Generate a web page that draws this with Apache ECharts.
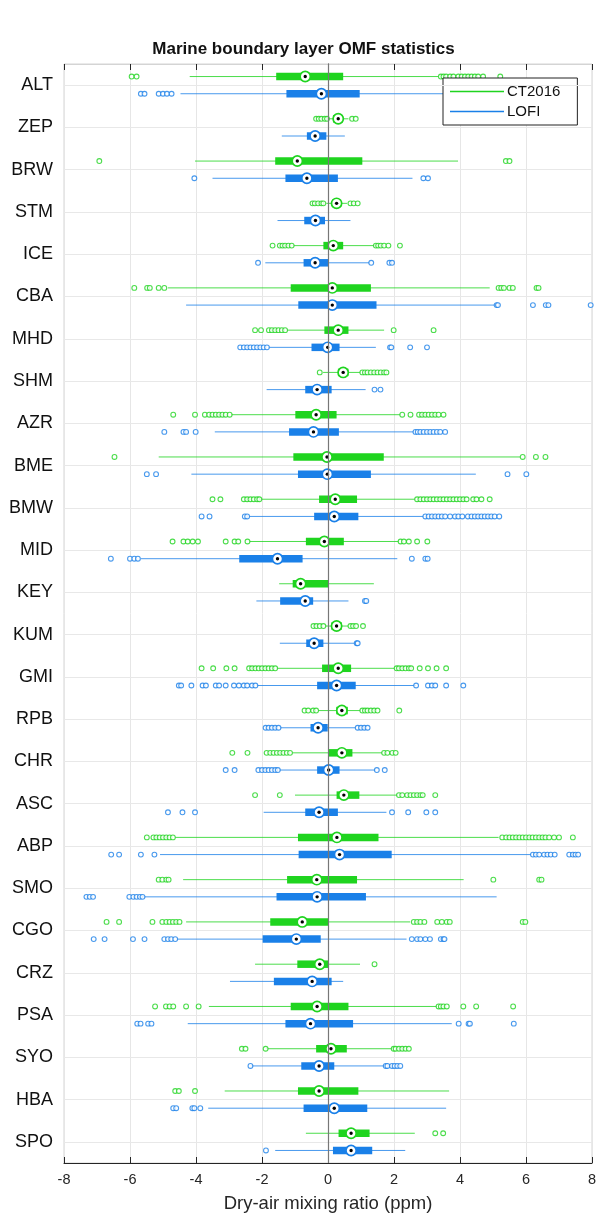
<!DOCTYPE html>
<html><head><meta charset="utf-8">
<script src="https://cdn.jsdelivr.net/npm/echarts@6/dist/echarts.min.js"></script>
<style>html,body{margin:0;padding:0;background:#fff}#c{width:607px;height:1218px}</style>
</head><body><div id="c"></div>
<script>
// ---- data ----
const stations = ['ALT','ZEP','BRW','STM','ICE','CBA','MHD','SHM','AZR','BME','BMW','MID','KEY','KUM','GMI','RPB','CHR','ASC','ABP','SMO','CGO','CRZ','PSA','SYO','HBA','SPO'];
// [lower whisker, q1, median, q3, upper whisker]
const ct2016Box = [
 [-4.19,-1.57,-0.69,0.46,3.35],
 [0.0,0.15,0.31,0.45,0.62],
 [-4.03,-1.6,-0.93,1.04,3.94],
 [-0.05,0.12,0.26,0.4,0.58],
 [-1.07,-0.14,0.16,0.46,1.42],
 [-4.85,-1.13,0.13,1.3,4.9],
 [-1.24,-0.11,0.31,0.62,1.7],
 [-0.15,0.3,0.46,0.62,1.0],
 [-2.94,-0.99,-0.36,0.26,2.21],
 [-5.13,-1.05,-0.03,1.69,5.83],
 [-2.06,-0.27,0.22,0.88,2.65],
 [-2.39,-0.67,-0.11,0.48,2.16],
 [-1.48,-1.07,-0.83,0.0,1.39],
 [-0.1,0.1,0.26,0.42,0.65],
 [-1.57,-0.18,0.31,0.7,2.05],
 [-0.3,0.25,0.42,0.6,1.0],
 [-1.07,0.02,0.42,0.74,1.66],
 [-1.0,0.26,0.48,0.95,2.12],
 [-4.63,-0.91,0.27,1.53,5.17],
 [-4.39,-1.24,-0.34,0.88,4.11],
 [-4.3,-1.75,-0.78,0.0,2.49],
 [-2.21,-0.93,-0.25,0.0,0.97],
 [-3.61,-1.13,-0.33,0.62,3.31],
 [-1.89,-0.36,0.09,0.57,1.96],
 [-3.13,-0.91,-0.27,0.92,3.67],
 [-0.67,0.32,0.7,1.26,2.63]
];
const lofiBox = [
 [-4.47,-1.26,-0.2,0.96,4.4],
 [-1.4,-0.64,-0.39,-0.05,0.51],
 [-3.5,-1.29,-0.64,0.3,2.56],
 [-1.53,-0.72,-0.38,-0.09,0.68],
 [-1.9,-0.74,-0.39,0.0,1.28],
 [-4.3,-0.9,0.13,1.47,5.04],
 [-1.82,-0.5,-0.01,0.35,1.45],
 [-1.86,-0.69,-0.33,0.11,1.14],
 [-3.43,-1.18,-0.44,0.33,2.6],
 [-4.14,-0.91,-0.02,1.3,4.48],
 [-2.39,-0.42,0.19,0.92,2.92],
 [-5.67,-2.69,-1.53,-0.77,2.1],
 [-2.17,-1.45,-0.69,-0.45,0.62],
 [-1.46,-0.66,-0.42,-0.14,0.84],
 [-2.17,-0.33,0.26,0.84,2.67],
 [-1.46,-0.53,-0.3,-0.01,0.84],
 [-1.49,-0.33,0.02,0.35,1.45],
 [-1.95,-0.69,-0.27,0.3,1.77],
 [-5.09,-0.89,0.35,1.93,6.16],
 [-5.62,-1.56,-0.33,1.15,5.11],
 [-4.58,-1.98,-0.96,-0.22,2.38],
 [-2.97,-1.64,-0.48,0.11,0.46],
 [-4.25,-1.29,-0.53,0.76,3.75],
 [-2.35,-0.81,-0.27,0.19,1.72],
 [-3.63,-0.74,0.19,1.19,3.58],
 [-1.6,0.15,0.7,1.34,2.34]
];
const ct2016Outliers = [
 [-5.95,-5.8,3.42,3.5,3.58,3.7,3.8,3.95,4.05,4.15,4.25,4.35,4.45,4.55,4.7,5.22],
 [-0.36,-0.28,-0.2,-0.1,-0.03,0.73,0.84],
 [-6.93,5.39,5.5],
 [-0.47,-0.4,-0.3,-0.2,-0.14,0.68,0.78,0.9],
 [-1.68,-1.46,-1.38,-1.3,-1.2,-1.1,1.45,1.52,1.6,1.7,1.83,2.18],
 [-5.87,-5.48,-5.4,-5.13,-4.96,5.17,5.25,5.33,5.5,5.6,6.32,6.38],
 [-2.21,-2.03,-1.79,-1.7,-1.6,-1.5,-1.4,-1.3,1.99,3.2],
 [-0.25,1.04,1.12,1.2,1.3,1.4,1.5,1.6,1.7,1.77],
 [-4.69,-4.03,-3.73,-3.6,-3.5,-3.4,-3.3,-3.2,-3.1,-2.98,2.25,2.5,2.76,2.85,2.95,3.05,3.15,3.25,3.35,3.5],
 [-6.47,5.9,6.3,6.59],
 [-3.5,-3.26,-2.55,-2.45,-2.35,-2.25,-2.15,-2.08,2.7,2.8,2.9,3.0,3.1,3.2,3.3,3.4,3.5,3.6,3.7,3.8,3.9,4.0,4.1,4.2,4.4,4.5,4.65,4.9],
 [-4.71,-4.38,-4.25,-4.1,-3.94,-3.1,-2.83,-2.72,-2.44,2.2,2.3,2.45,2.7,3.01],
 [],
 [-0.44,-0.35,-0.25,-0.14,0.68,0.76,0.85,1.06],
 [-3.83,-3.48,-3.08,-2.83,-2.39,-2.3,-2.2,-2.1,-2.0,-1.9,-1.8,-1.7,-1.6,2.08,2.15,2.25,2.35,2.45,2.52,2.78,3.03,3.29,3.58],
 [-0.71,-0.6,-0.45,-0.36,1.04,1.12,1.2,1.3,1.4,1.5,2.16],
 [-2.9,-2.44,-1.86,-1.75,-1.65,-1.55,-1.45,-1.35,-1.25,-1.15,1.7,1.8,1.95,2.05],
 [-2.21,-1.46,2.15,2.25,2.4,2.5,2.6,2.7,2.8,2.87,3.25],
 [-5.49,-5.29,-5.2,-5.1,-5.0,-4.9,-4.8,-4.7,5.28,5.4,5.5,5.6,5.7,5.8,5.9,6.0,6.1,6.2,6.3,6.4,6.5,6.59,6.7,6.85,7.0,7.42],
 [-5.13,-5.02,-4.9,-4.83,5.01,6.4,6.47],
 [-6.71,-6.33,-5.32,-5.02,-4.9,-4.8,-4.7,-4.6,-4.5,2.6,2.7,2.8,2.92,3.31,3.45,3.6,3.69,5.9,5.98],
 [1.41],
 [-5.24,-4.91,-4.8,-4.69,-4.3,-3.92,3.35,3.42,3.5,3.6,4.1,4.49,5.61],
 [-2.61,-2.5,-1.89,1.99,2.05,2.15,2.25,2.35,2.45],
 [-4.63,-4.52,-4.03],
 [3.25,3.49]
];
const lofiOutliers = [
 [-5.67,-5.56,-5.13,-5.0,-4.88,-4.74],
 [],
 [-4.05,2.89,3.03],
 [],
 [-2.12,1.31,1.86,1.94],
 [5.11,5.15,6.21,6.6,6.68,7.96],
 [-2.66,-2.55,-2.45,-2.35,-2.25,-2.15,-2.05,-1.95,-1.85,1.88,1.92,2.49,3.0],
 [1.41,1.59],
 [-4.96,-4.38,-4.3,-4.01,2.65,2.72,2.8,2.9,3.0,3.1,3.2,3.3,3.4,3.55],
 [-5.49,-5.21,5.44,6.01],
 [-3.83,-3.59,-2.52,-2.45,2.95,3.05,3.15,3.25,3.35,3.45,3.55,3.7,3.85,3.95,4.07,4.24,4.35,4.45,4.55,4.65,4.75,4.85,4.95,5.05,5.19],
 [-6.58,-6.0,-5.87,-5.76,2.54,2.95,3.02],
 [1.12,1.16],
 [0.87,0.9],
 [-4.52,-4.45,-4.14,-3.8,-3.7,-3.4,-3.3,-3.1,-2.85,-2.7,-2.55,-2.45,-2.3,-2.2,2.67,3.03,3.15,3.25,3.58,4.1],
 [-1.89,-1.8,-1.7,-1.6,-1.5,0.9,1.0,1.1,1.2],
 [-3.1,-2.83,-2.11,-2.0,-1.9,-1.8,-1.7,-1.6,-1.52,1.48,1.72],
 [-4.85,-4.41,-4.03,1.94,2.43,2.98,3.25],
 [-6.57,-6.33,-5.67,-5.26,6.21,6.3,6.4,6.55,6.65,6.75,6.87,7.31,7.42,7.5,7.58],
 [-7.32,-7.22,-7.12,-6.02,-5.9,-5.8,-5.7,-5.62],
 [-7.1,-6.77,-5.91,-5.56,-4.96,-4.85,-4.75,-4.63,2.54,2.7,2.8,2.95,3.09,3.42,3.5,3.53],
 [],
 [-5.78,-5.68,-5.45,-5.35,3.96,4.26,4.3,5.63],
 [-2.35,1.75,1.8,1.94,2.02,2.1,2.19],
 [-4.69,-4.6,-4.11,-4.05,-3.87],
 [-1.88]
];
const xMin = -8, xMax = 8, xInterval = 2;
const seriesNames = ['CT2016','LOFI'];

// ---- styling ----
const GREEN = '#1fd41f', BLUE = '#1a80e8';
const FONT = "'Liberation Sans', Arial, Helvetica, sans-serif";
const OFF = 8.6, BOX_H = 7.5;

function boxData(boxes){ return boxes.map((b,i)=>[i].concat(b)); }
function outlierData(list){ const out=[]; list.forEach((arr,i)=>arr.forEach(v=>out.push([v,i]))); return out; }

function boxRenderer(sign, color){
  return function(params, api){
    const cat = api.value(0);
    const lo = api.coord([api.value(1), cat]);
    const q1 = api.coord([api.value(2), cat]);
    const q3 = api.coord([api.value(4), cat]);
    const hi = api.coord([api.value(5), cat]);
    const y = lo[1] + sign*OFF;
    return {type:'group', children:[
      {type:'line', shape:{x1:lo[0], y1:y, x2:hi[0], y2:y}, style:{stroke:color, lineWidth:1, opacity:0.8}},
      {type:'rect', shape:{x:q1[0], y:y-BOX_H/2, width:q3[0]-q1[0], height:BOX_H}, style:{fill:color}}
    ]};
  };
}
function medianRenderer(sign, color){
  return function(params, api){
    const cat = api.value(0);
    const m = api.coord([api.value(3), cat]);
    const y = m[1] + sign*OFF;
    return {type:'group', children:[
      {type:'circle', shape:{cx:m[0], cy:y, r:5.1}, style:{fill:'#fff', stroke:color, lineWidth:1.7}},
      {type:'circle', shape:{cx:m[0], cy:y, r:1.7}, style:{fill:'#000'}}
    ]};
  };
}

const chart = echarts.init(document.getElementById('c'), null, {renderer:'canvas'});
const series = [];
// horizontal grid lines at category centres
series.push({type:'line', name:'grid', data:[], silent:true, z:1,
  markLine:{silent:true, symbol:'none', label:{show:false}, animation:false,
    lineStyle:{color:'#e8e8e8', width:1, type:'solid'},
    data: stations.map(s=>({yAxis:s}))}});
[[ct2016Box, ct2016Outliers, GREEN, -1], [lofiBox, lofiOutliers, BLUE, 1]].forEach(([box, outl, color, sign], k)=>{
  series.push({type:'custom', name:seriesNames[k], renderItem:boxRenderer(sign,color),
    data:boxData(box), encode:{x:[1,2,3,4,5], y:0}, itemStyle:{color:color}, z:2, animation:false});
  series.push({type:'scatter', name:seriesNames[k]+' outliers', data:outlierData(outl),
    symbol:'circle', symbolSize:4.8, symbolOffset:[0, sign*OFF],
    itemStyle:{color:'#fff', borderColor:color, borderWidth:1.1}, z:2, animation:false});
});
// zero line
series.push({type:'line', name:'zero', data:[], silent:true, z:3,
  markLine:{silent:true, symbol:'none', label:{show:false}, animation:false,
    lineStyle:{color:'#777', width:1.2, type:'solid'}, data:[{xAxis:0}]}});
[[ct2016Box, GREEN, -1], [lofiBox, BLUE, 1]].forEach(([box, color, sign], k)=>{
  series.push({type:'custom', name:seriesNames[k]+' median', renderItem:medianRenderer(sign,color),
    data:boxData(box), encode:{x:3, y:0}, z:4, animation:false});
});

chart.setOption({
  animation:false,
  backgroundColor:'#fff',
  textStyle:{fontFamily:FONT},
  title:{text:'Marine boundary layer OMF statistics', left:'center', top:36,
    textStyle:{fontSize:17, fontWeight:'bold', color:'#111', fontFamily:FONT}},
  grid:{left:64, right:15, top:64, bottom:53, show:true, borderColor:'#d4d4d4', borderWidth:1, containLabel:false},
  legend:{orient:'vertical', left:443, top:78, data:seriesNames.map((n,i)=>({name:n, icon:'rect', itemStyle:{color:i?BLUE:GREEN}})),
    itemWidth:54, itemHeight:1.5, itemGap:5, padding:[6,17,6,7],
    borderColor:'#222', borderWidth:1, backgroundColor:'#fff',
    textStyle:{fontSize:15, color:'#111', fontFamily:FONT, padding:[0,0,0,-2]}, selectedMode:false},
  xAxis:[
    {type:'value', min:xMin, max:xMax, interval:xInterval, position:'bottom',
     axisLine:{show:true, lineStyle:{color:'#262626', width:1}},
     axisTick:{show:true, inside:true, length:6, lineStyle:{color:'#262626'}},
     axisLabel:{fontSize:14.5, color:'#262626', margin:9, fontFamily:FONT},
     splitLine:{show:true, lineStyle:{color:'#e6e6e6'}},
     name:'Dry-air mixing ratio (ppm)', nameLocation:'middle', nameGap:31,
     nameTextStyle:{fontSize:18.5, color:'#262626', fontFamily:FONT}},
    {type:'value', min:xMin, max:xMax, interval:xInterval, position:'top',
     axisLine:{show:true, lineStyle:{color:'#d4d4d4'}},
     axisTick:{show:true, inside:true, length:6, lineStyle:{color:'#262626'}},
     axisLabel:{show:false}, splitLine:{show:false}}
  ],
  yAxis:{type:'category', data:stations, inverse:true,
    axisLine:{show:true, lineStyle:{color:'#262626'}}, axisTick:{show:false},
    axisLabel:{fontSize:18, color:'#111', margin:11, fontFamily:FONT},
    splitLine:{show:false}},
  series:series
});
</script></body></html>
